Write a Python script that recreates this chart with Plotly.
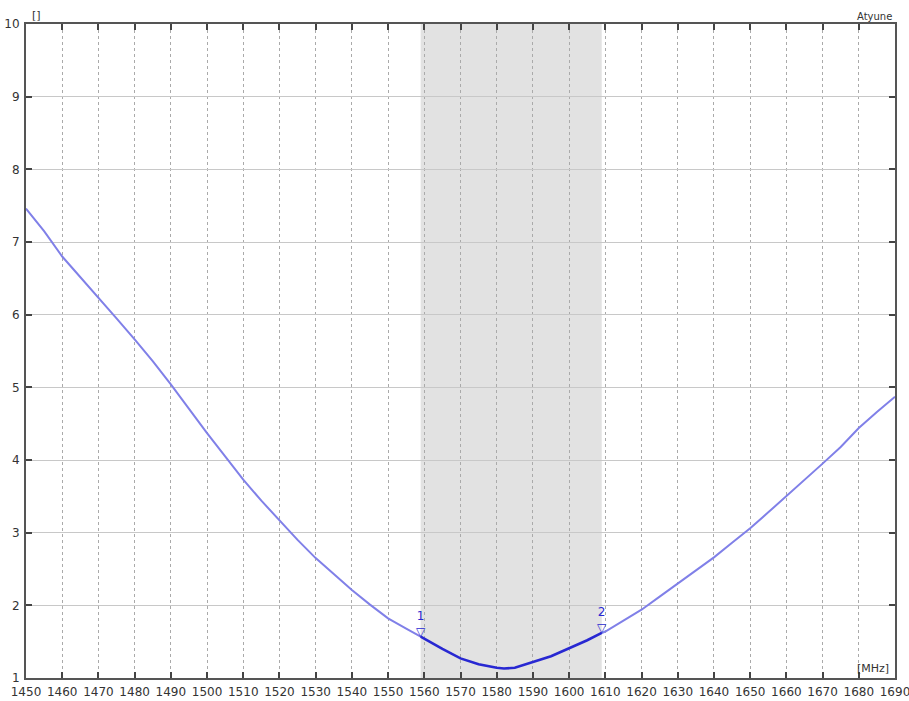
import plotly.graph_objects as go

# Frequency (MHz) and VSWR values
freq = [1450, 1455, 1460, 1465, 1470, 1475, 1480, 1485, 1490, 1495, 1500, 1505,
        1510, 1515, 1520, 1525, 1530, 1535, 1540, 1545, 1550, 1555, 1559]
vswr = [7.46, 7.15, 6.80, 6.52, 6.23, 5.95, 5.66, 5.36, 5.04, 4.70, 4.37, 4.05,
        3.73, 3.44, 3.17, 2.90, 2.65, 2.43, 2.21, 2.01, 1.82, 1.68, 1.57]

band_freq = [1559, 1560, 1565, 1570, 1575, 1580, 1582, 1585, 1590, 1595, 1600, 1605, 1609]
band_vswr = [1.57, 1.54, 1.40, 1.27, 1.19, 1.14, 1.13, 1.14, 1.22, 1.30, 1.41, 1.52, 1.62]

hi_freq = [1609, 1610, 1615, 1620, 1625, 1630, 1635, 1640, 1645, 1650, 1655, 1660,
           1665, 1670, 1675, 1680, 1685, 1690]
hi_vswr = [1.62, 1.64, 1.79, 1.94, 2.12, 2.30, 2.48, 2.66, 2.86, 3.06, 3.28, 3.50,
           3.72, 3.95, 4.18, 4.44, 4.66, 4.87]

band = [1559, 1609]
marker_freq = [1559, 1609]
marker_vswr = [1.57, 1.62]
marker_names = ["1", "2"]

x_ticks = list(range(1450, 1691, 10))
y_ticks = list(range(1, 11))

light = "rgb(128,128,232)"
dark = "rgb(40,40,210)"

fig = go.Figure()
fig.add_trace(go.Scatter(x=freq, y=vswr, mode="lines",
                         line=dict(color=light, width=2), hoverinfo="skip"))
fig.add_trace(go.Scatter(x=hi_freq, y=hi_vswr, mode="lines",
                         line=dict(color=light, width=2), hoverinfo="skip"))
fig.add_trace(go.Scatter(x=band_freq, y=band_vswr, mode="lines",
                         line=dict(color=dark, width=2.6), hoverinfo="skip"))

fig.add_shape(type="rect", x0=band[0], x1=band[1], y0=0, y1=1, xref="x", yref="paper",
              fillcolor="rgb(226,226,226)", line=dict(width=0), layer="below")

for fx, fy, name in zip(marker_freq, marker_vswr, marker_names):
    fig.add_annotation(x=fx, y=fy, text=name + "<br>▽", showarrow=False,
                       xanchor="center", yanchor="bottom",
                       font=dict(family="DejaVu Sans", size=12, color=dark),
                       yshift=-4)

fig.add_annotation(x=0, y=1, xref="paper", yref="paper", text="[]", showarrow=False,
                   xanchor="left", yanchor="bottom", xshift=4, yshift=0,
                   font=dict(family="DejaVu Sans", size=11, color="#333"))
fig.add_annotation(x=1, y=1, xref="paper", yref="paper", text="Atyune", showarrow=False,
                   xanchor="right", yanchor="bottom", xshift=-1, yshift=0,
                   font=dict(family="DejaVu Sans", size=10, color="#333"))
fig.add_annotation(x=1, y=0, xref="paper", yref="paper", text="[MHz]", showarrow=False,
                   xanchor="right", yanchor="bottom", xshift=-4, yshift=1,
                   font=dict(family="DejaVu Sans", size=11, color="#333"))

axis_common = dict(showline=True, linecolor="#555", linewidth=2, mirror="ticks",
                   ticks="inside", ticklen=6, tickcolor="#444", tickwidth=2,
                   zeroline=False, automargin=False, ticklabeloverflow="allow",
                   tickfont=dict(family="DejaVu Sans", size=12, color="#333"))

fig.update_xaxes(range=[1450, 1690], tickvals=x_ticks, ticktext=[str(v) for v in x_ticks],
                 showgrid=True, gridcolor="#aaaaaa", griddash="dot", gridwidth=1,
                 ticklabelstandoff=2, **axis_common)
fig.update_yaxes(range=[1, 10], tickvals=y_ticks, ticktext=[str(v) for v in y_ticks],
                 showgrid=True, gridcolor="#c8c8c8", griddash="solid", gridwidth=1,
                 ticklabelstandoff=2, **axis_common)

fig.update_layout(width=909, height=701, showlegend=False,
                  margin=dict(l=26, r=14, t=24, b=23),
                  plot_bgcolor="white", paper_bgcolor="white",
                  font=dict(family="DejaVu Sans"))

# remove the page's default body margin so the figure sits at the window's corner
fig.write_html("out.html", config={"displayModeBar": False},
               post_script="document.body.style.margin='0';document.body.style.overflow='hidden';")
